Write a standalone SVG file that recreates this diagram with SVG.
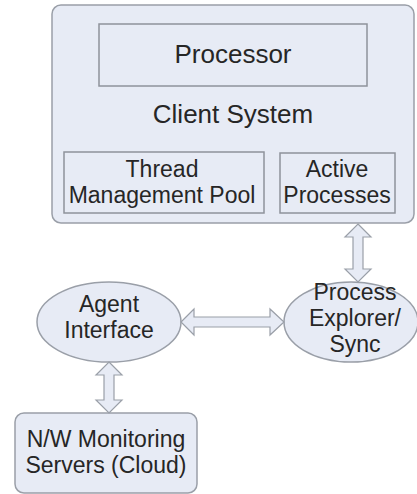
<svg xmlns="http://www.w3.org/2000/svg" width="417" height="494" viewBox="0 0 417 494">
<style>
.box{fill:#e7ebf5;stroke:#9a9fa8;stroke-width:1.5}
.inner{fill:#e7ebf5;stroke:#8e939b;stroke-width:1.5}
.arrow{fill:#e7ebf5;stroke:#9a9fa8;stroke-width:1.2;stroke-linejoin:miter}
text{font-family:"Liberation Sans",Arial,sans-serif;fill:#262626;text-anchor:middle}
.big{font-size:26px}
.mid{font-size:23px}
</style>
<rect width="417" height="494" fill="#ffffff"/>
<g id="client-system">
<rect class="box" x="52" y="5" width="362" height="218" rx="9"/>
<text class="big" x="233" y="123">Client System</text>
</g>
<g id="processor">
<rect class="inner" x="99" y="24" width="268" height="62"/>
<text class="big" x="233" y="63">Processor</text>
</g>
<g id="thread-pool">
<rect class="inner" x="64" y="152" width="200" height="61"/>
<text class="mid" x="162" y="177">Thread</text>
<text class="mid" x="162" y="203">Management Pool</text>
</g>
<g id="active-processes">
<rect class="inner" x="280" y="153" width="115" height="60"/>
<text class="mid" x="337" y="177">Active</text>
<text class="mid" x="337" y="203">Processes</text>
</g>
<g id="agent-interface">
<ellipse class="box" cx="109" cy="322" rx="72" ry="40"/>
<text class="mid" x="109" y="312">Agent</text>
<text class="mid" x="109" y="338">Interface</text>
</g>
<g id="process-explorer">
<ellipse class="box" cx="351" cy="322" rx="67" ry="40"/>
<text class="mid" x="355" y="300">Process</text>
<text class="mid" x="355" y="326">Explorer/</text>
<text class="mid" x="355" y="352">Sync</text>
</g>
<g id="nw-monitoring">
<rect class="box" x="15" y="413" width="182" height="80" rx="9"/>
<text class="mid" x="106" y="447">N/W Monitoring</text>
<text class="mid" x="106" y="473">Servers (Cloud)</text>
</g>
<g id="connectors">
<polygon class="arrow" points="358,224 371,237 363,237 363,269 371,269 358,282 345,269 353,269 353,237 345,237"/>
<polygon class="arrow" points="109,362 122,375 114,375 114,400 122,400 109,413 96,400 104,400 104,375 96,375"/>
<polygon class="arrow" points="181,322 194,309 194,317 270,317 270,309 284,322 270,335 270,327 194,327 194,335"/>
</g>
</svg>
